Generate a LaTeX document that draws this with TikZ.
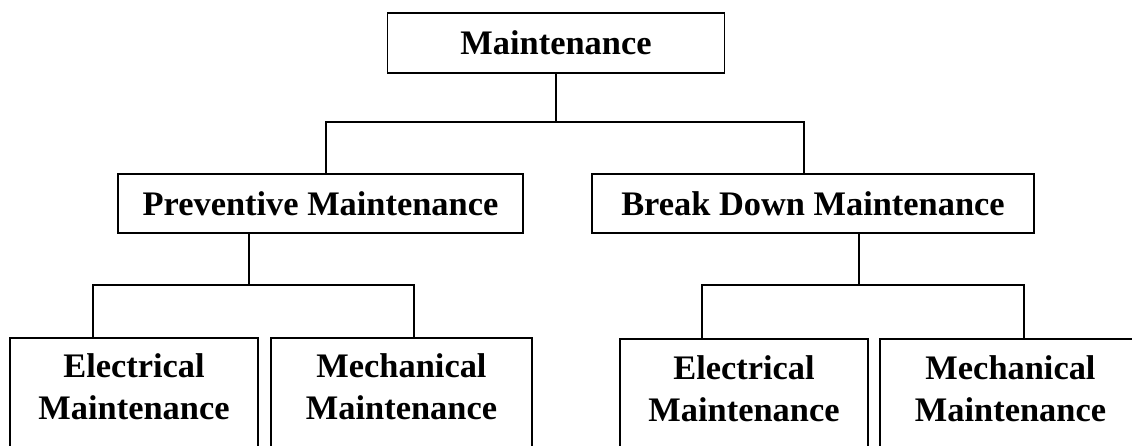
\documentclass[tikz,border=0pt]{standalone}
\usepackage{fontspec}
\setmainfont{Liberation Serif}
\tikzset{
  box/.style={draw, line width=1.5pt, rectangle, inner xsep=0pt, inner ysep=0pt,
    font=\fontsize{34.4}{42}\selectfont\bfseries, align=center},
  topbox/.style={box, text height=23pt, text depth=0pt},
  link/.style={draw, line width=1.3pt}
}
\newcommand{\topstrut}[1]{\rule{0pt}{#1}}
\newcommand{\botstrut}{\rule[-60pt]{0pt}{60pt}}
\begin{document}
\begin{tikzpicture}[x=1pt,y=-1pt]
\useasboundingbox (0,0) rectangle (1132,445);
\clip (0,0) rectangle (1132,445);
\fill[white] (0,0) rectangle (1132,445);

% top level
\node[topbox, minimum width=337pt, minimum height=60pt] (top) at (556,43) {Maintenance};

% second level
\node[topbox, minimum width=405pt, minimum height=59pt] (prev) at (320.5,203.5) {Preventive Maintenance};
\node[topbox, minimum width=442pt, minimum height=59pt] (bd) at (813,203.5) {Break Down Maintenance};

% third level (cut off at the bottom / right)
\node[box, anchor=north, minimum width=248pt] (e1) at (134,337) {\topstrut{40pt}Electrical\\Maintenance\botstrut};
\node[box, anchor=north, minimum width=261pt] (m1) at (401.5,337) {\topstrut{40pt}Mechanical\\Maintenance\botstrut};
\node[box, anchor=north, minimum width=248pt] (e2) at (744,338) {\topstrut{41pt}Electrical\\Maintenance\botstrut};
\node[box, anchor=north, minimum width=261pt] (m2) at (1010.5,338) {\topstrut{41pt}Mechanical\\Maintenance\botstrut};

% junction coordinates
\coordinate (j1) at (556,122);
\coordinate (j1l) at (326,122);
\coordinate (j1r) at (804,122);
\coordinate (j2) at (249,285);
\coordinate (j2l) at (93,285);
\coordinate (j2r) at (414,285);
\coordinate (j3) at (859,285);
\coordinate (j3l) at (702,285);
\coordinate (j3r) at (1024,285);

% connectors
\path[link] (top.south) -- (j1);
\path[link] (prev.north -| j1l) -- (j1l) -- (j1r) -- (bd.north -| j1r);

\path[link] (prev.south -| j2) -- (j2);
\path[link] (e1.north -| j2l) -- (j2l) -- (j2r) -- (m1.north -| j2r);

\path[link] (bd.south -| j3) -- (j3);
\path[link] (e2.north -| j3l) -- (j3l) -- (j3r) -- (m2.north -| j3r);
\end{tikzpicture}
\end{document}
